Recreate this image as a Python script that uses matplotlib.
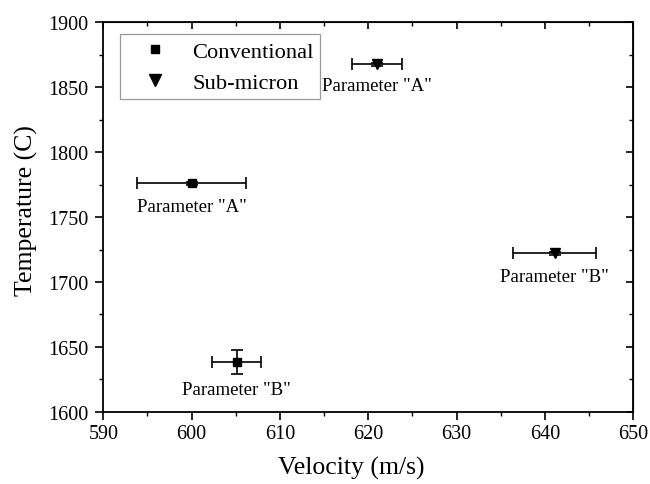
import matplotlib
matplotlib.use("Agg")
import matplotlib.pyplot as plt
from matplotlib.ticker import MultipleLocator
from matplotlib.lines import Line2D

plt.rcParams['font.family'] = ['Liberation Serif', 'DejaVu Serif']

# data
conv_x = [600.0, 605.1]
conv_y = [1776.0, 1638.5]
conv_xerr = [6.2, 2.8]
conv_yerr = [1.0, 9.5]
conv_labels = ['Parameter "A"', 'Parameter "B"']
conv_offsets = [23, 28]

sub_x = [621.0, 641.1]
sub_y = [1867.5, 1722.0]
sub_xerr = [2.8, 4.75]
sub_yerr = [1.0, 1.0]
sub_labels = ['Parameter "A"', 'Parameter "B"']
sub_offsets = [21, 23]

series_names = ['Conventional', 'Sub-micron']

fig = plt.figure(figsize=(6.5, 4.85), dpi=100)
ax = fig.add_axes([0.159, 0.1485, 0.815, 0.804])

ax.errorbar(conv_x, conv_y, xerr=conv_xerr, yerr=conv_yerr, fmt='s', color='black',
            markersize=6, capsize=4, elinewidth=1.2, capthick=1.2)
ax.errorbar(sub_x, sub_y, xerr=sub_xerr, yerr=sub_yerr, fmt='v', color='black',
            markersize=7, capsize=4, elinewidth=1.2, capthick=1.2)

for x, y, t, off in zip(conv_x, conv_y, conv_labels, conv_offsets):
    ax.annotate(t, (x, y), xytext=(0, -off), textcoords='offset pixels',
                ha='center', va='center', fontsize=13.5)
for x, y, t, off in zip(sub_x, sub_y, sub_labels, sub_offsets):
    ax.annotate(t, (x, y), xytext=(0, -off), textcoords='offset pixels',
                ha='center', va='center', fontsize=13.5)

ax.set_xlim(590, 650)
ax.set_ylim(1600, 1900)
ax.xaxis.set_major_locator(MultipleLocator(10))
ax.xaxis.set_minor_locator(MultipleLocator(5))
ax.yaxis.set_major_locator(MultipleLocator(50))
ax.yaxis.set_minor_locator(MultipleLocator(25))
ax.tick_params(which='major', direction='out', length=5.5, width=1.2, labelsize=14.5)
ax.tick_params(axis='y', which='major', pad=5.5)
ax.tick_params(which='minor', direction='out', length=3, width=1.0)
for s in ax.spines.values():
    s.set_linewidth(1.3)

# mirrored ticks on top/right pointing inward
top = ax.secondary_xaxis('top')
top.xaxis.set_major_locator(MultipleLocator(10))
top.xaxis.set_minor_locator(MultipleLocator(5))
top.tick_params(which='major', direction='in', length=5, width=1.2, labeltop=False)
top.tick_params(which='minor', direction='in', length=3, width=1.0)
right = ax.secondary_yaxis('right')
right.yaxis.set_major_locator(MultipleLocator(50))
right.yaxis.set_minor_locator(MultipleLocator(25))
right.tick_params(which='major', direction='in', length=5, width=1.2, labelright=False)
right.tick_params(which='minor', direction='in', length=3, width=1.0)

ax.set_xlabel('Velocity (m/s)', fontsize=18.5)
ax.xaxis.set_label_coords(0.468, -0.112)
ax.set_ylabel('Temperature (C)', fontsize=18.5)
ax.yaxis.set_label_coords(-0.123, 0.52)

handles = [Line2D([], [], marker='s', color='black', linestyle='none', markersize=6),
           Line2D([], [], marker='v', color='black', linestyle='none', markersize=8)]
leg = ax.legend(handles, series_names, loc='upper left', bbox_to_anchor=(0.0315, 0.969),
                borderaxespad=0, fontsize=16.2, frameon=True, fancybox=False,
                edgecolor='#808080', borderpad=0.3, handlelength=2.5,
                handletextpad=0.4, labelspacing=0.45)
leg.get_frame().set_linewidth(0.9)

fig.savefig('out.png', dpi=100)
